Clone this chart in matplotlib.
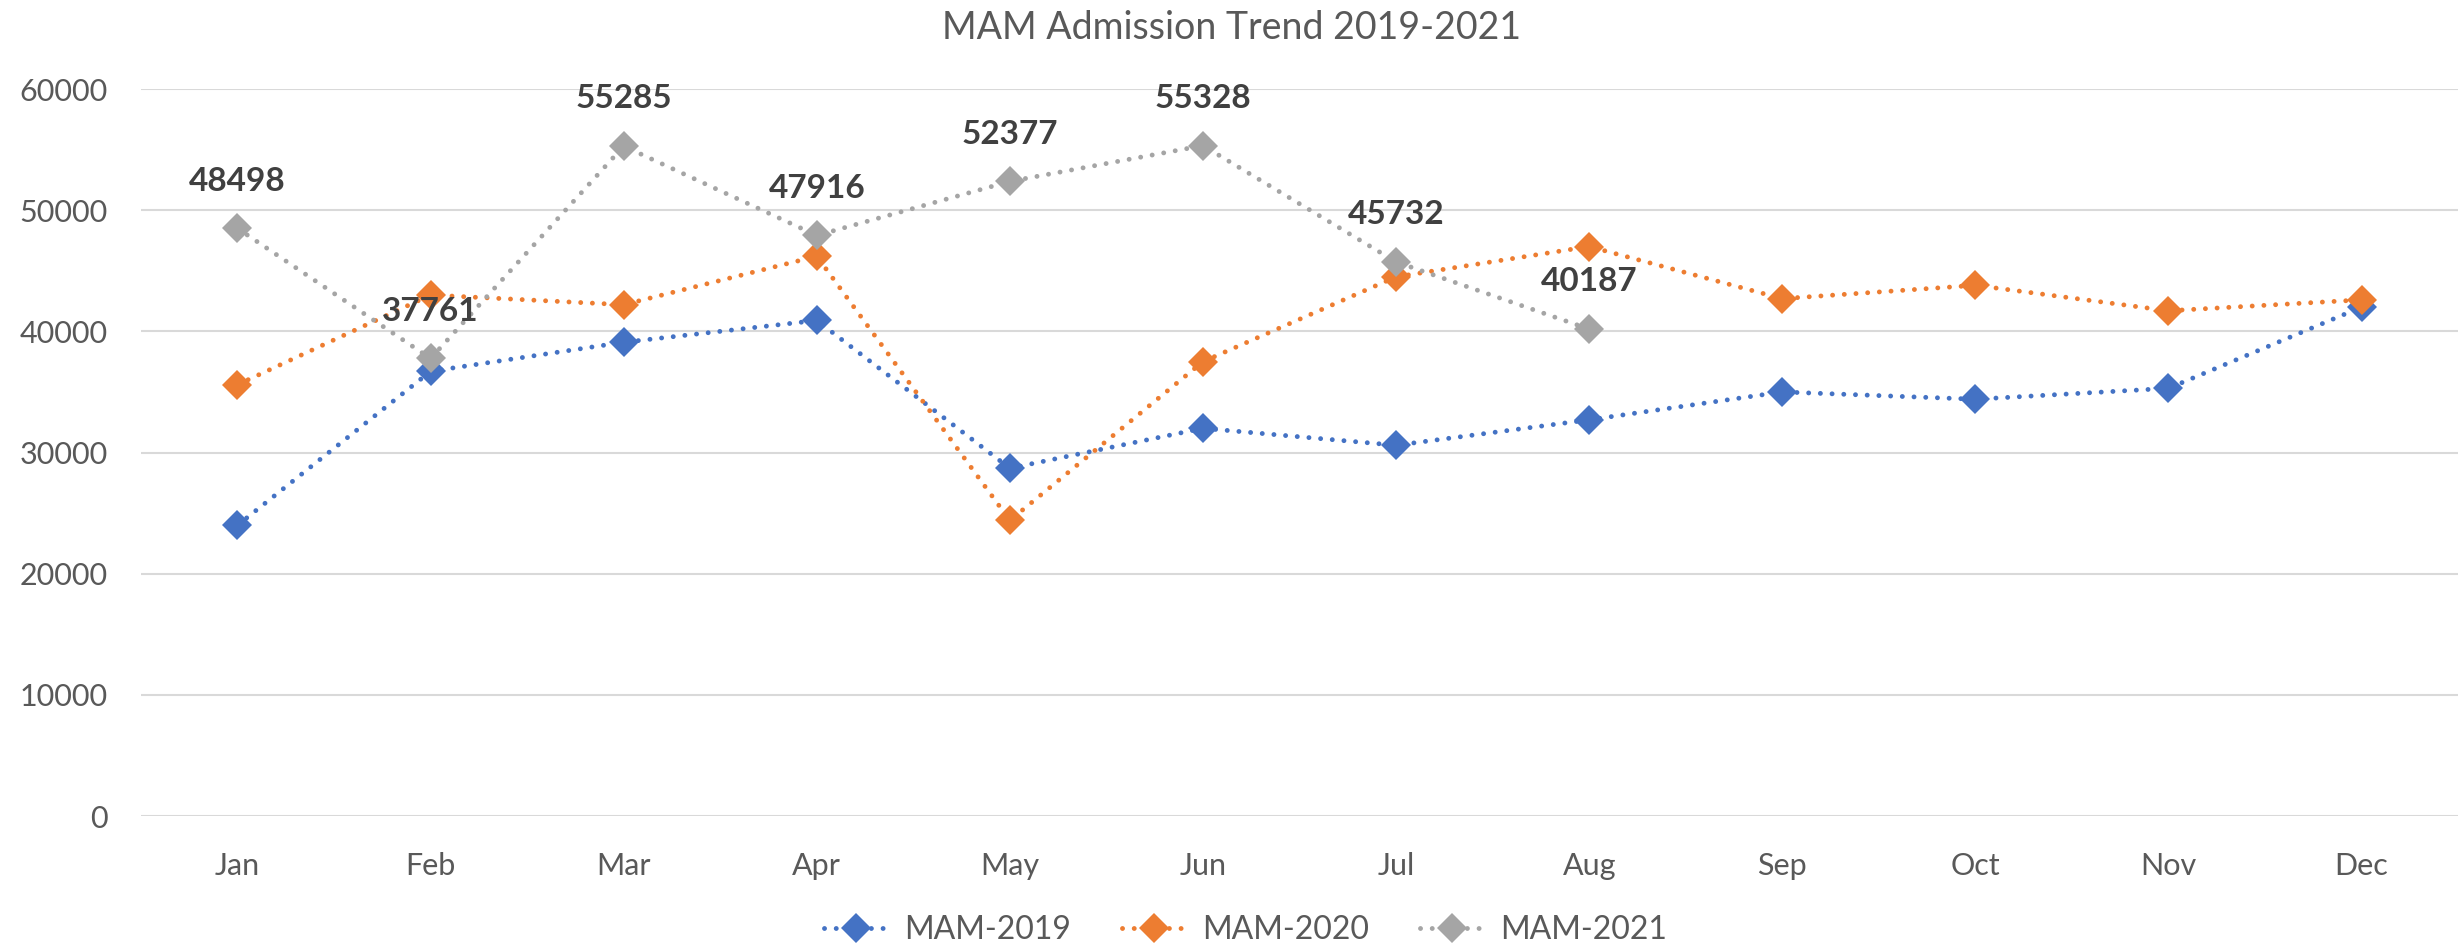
import matplotlib.pyplot as plt

months = ["Jan", "Feb", "Mar", "Apr", "May", "Jun", "Jul", "Aug", "Sep", "Oct", "Nov", "Dec"]
mam_2019 = [24000, 36700, 39100, 40900, 28700, 32000, 30600, 32700, 35000, 34400, 35300, 42000]
mam_2020 = [35600, 43000, 42200, 46200, 24400, 37500, 44500, 47000, 42700, 43800, 41700, 42600]
mam_2021 = [48498, 37761, 55285, 47916, 52377, 55328, 45732, 40187]

series = [
    ("MAM-2019", mam_2019, "#4472C4"),
    ("MAM-2020", mam_2020, "#ED7D31"),
    ("MAM-2021", mam_2021, "#A5A5A5"),
]

plt.rcParams["font.family"] = ["Lato", "DejaVu Sans"]

fig = plt.figure(figsize=(24.64, 9.49), dpi=100)
ax = fig.add_axes([0.0572, 0.1401, 0.9404, 0.7661])

x_all = list(range(len(months)))
for name, vals, color in series:
    ax.plot(x_all[:len(vals)], vals, color=color, lw=3.5,
            linestyle=(0, (0.01, 2.4)), dash_capstyle="round",
            marker="D", markersize=15, markeredgewidth=0,
            label=name)

for i, v in enumerate(mam_2021):
    ax.annotate(str(v), (i, v), xytext=(0, 34), textcoords="offset points",
                ha="center", va="center", fontsize=24, fontweight="bold",
                color="#404040", zorder=10)

ax.set_xlim(-0.5, len(months) - 0.5)
ax.set_ylim(0, 60000)
ax.set_yticks(range(0, 60001, 10000))
ax.set_xticks(x_all)
ax.set_xticklabels(months)
ax.grid(axis="y", color="#D9D9D9", lw=1.5)
ax.set_axisbelow(True)
for s in ax.spines.values():
    s.set_visible(False)
ax.tick_params(length=0, labelsize=22, labelcolor="#595959")
ax.tick_params(axis="y", pad=24)
ax.tick_params(axis="x", pad=26)

fig.text(0.5, 0.971, "MAM Admission Trend 2019-2021", ha="center", va="center",
         fontsize=27, color="#595959")

fig.legend(loc="center", bbox_to_anchor=(0.5055, 0.02), ncol=3, frameon=False,
           fontsize=23, labelcolor="#595959", handlelength=2.0,
           columnspacing=1.6, handletextpad=0.5)

fig.savefig("out.png", dpi=100)
